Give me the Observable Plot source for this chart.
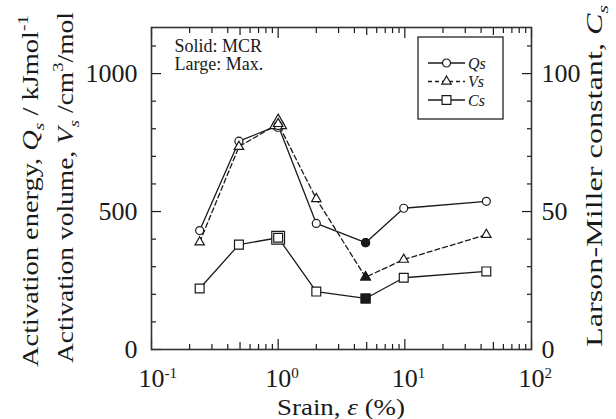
<!DOCTYPE html>
<html><head><meta charset="utf-8">
<script src="https://cdn.jsdelivr.net/npm/d3@7"></script>
<script src="https://cdn.jsdelivr.net/npm/@observablehq/plot@0.6"></script>
<style>
body{margin:0;background:#fff}
#chart svg, #chart svg text{font-family:"Liberation Serif","Times New Roman",serif !important;}
</style>
</head><body><div id="chart"></div>
<script>
// ---- data ----
const strain = [0.24, 0.49, 1.0, 2.0, 4.9, 9.8, 44];           // %
const Qs = [431, 755, 812, 457, 387, 512, 537];               // kJ/mol
const Vs = [389, 735, 818, 546, 262, 326, 416];               // cm3/mol
const Cs = [22.1, 38.0, 40.5, 21.0, 18.5, 26.0, 28.3];        // Larson-Miller constant
const mcrIndex = 4;   // solid markers (MCR)
const maxIndex = 2;   // large markers (Max.)
const seriesNames = ["Qs", "Vs", "Cs"];
const notes = ["Solid: MCR", "Large: Max."];

// ---- ticks ----
const xMajor = [0.1, 1, 10, 100];
const xMid = [0.5, 5, 50];
const xMinor = [0.2,0.3,0.4,0.6,0.7,0.8,0.9,2,3,4,6,7,8,9,20,30,40,60,70,80,90];
const yMajor = [0, 500, 1000];
const yMinor = [100,200,300,400,600,700,800,900,1100];
const csFactor = 10; // right axis = left axis / 10

const W = 616, H = 419;
const M = {top: 27, right: 85, bottom: 70, left: 151};
const ink = "#1a1a1a";
const serif = '"Liberation Serif", "Times New Roman", serif';

const rows = strain.map((x, i) => ({i, x, Qs: Qs[i], Vs: Vs[i], Cs: Cs[i] * csFactor}));

const fsTick = 26, fsLabel = 23;

function seriesMarks(key, symbol, rBig, dash) {
  return [
    Plot.line(rows, {x: "x", y: key, stroke: ink, strokeWidth: 1.3, strokeDasharray: dash}),
    Plot.dot(rows, {filter: d => d.i === maxIndex, x: "x", y: key, symbol, r: rBig, fill: "white", stroke: ink, strokeWidth: 1.2})
  ];
}
function seriesDots(key, symbol, r) {
  return [
    Plot.dot(rows, {x: "x", y: key, symbol, r, fill: "white", stroke: ink, strokeWidth: 1.2}),
    Plot.dot(rows, {filter: d => d.i === mcrIndex, x: "x", y: key, symbol, r, fill: ink, stroke: ink, strokeWidth: 1.2})
  ];
}

const plot = Plot.plot({
  width: W, height: H,
  marginTop: M.top, marginRight: M.right, marginBottom: M.bottom, marginLeft: M.left,
  style: {fontSize: fsTick + "px", color: ink, background: "white", fontFamily: serif},
  x: {type: "log", domain: [0.1, 100]},
  y: {domain: [0, 1167]},
  marks: [
    // inward ticks
    Plot.axisY(yMajor, {anchor: "left", tickSize: -10, fill: "none", label: null, strokeWidth: 1.2}),
    Plot.axisY(yMinor, {anchor: "left", tickSize: -5, fill: "none", label: null, strokeWidth: 1.2}),
    Plot.axisY(yMajor, {anchor: "right", tickSize: -10, fill: "none", label: null, strokeWidth: 1.2}),
    Plot.axisY(yMinor, {anchor: "right", tickSize: -5, fill: "none", label: null, strokeWidth: 1.2}),
    Plot.axisX(xMajor, {anchor: "bottom", tickSize: -10, fill: "none", label: null, strokeWidth: 1.2}),
    Plot.axisX(xMid, {anchor: "bottom", tickSize: -7, fill: "none", label: null, strokeWidth: 1.2}),
    Plot.axisX(xMinor, {anchor: "bottom", tickSize: -5, fill: "none", label: null, strokeWidth: 1.2}),
    Plot.axisX(xMajor, {anchor: "top", tickSize: -10, fill: "none", label: null, strokeWidth: 1.2}),
    Plot.axisX(xMid, {anchor: "top", tickSize: -7, fill: "none", label: null, strokeWidth: 1.2}),
    Plot.axisX(xMinor, {anchor: "top", tickSize: -5, fill: "none", label: null, strokeWidth: 1.2}),
    // tick labels
    Plot.axisY(yMajor, {anchor: "left", tickSize: 0, tickPadding: 14, fontSize: fsTick, fontFamily: serif, fontVariant: "normal", label: null, tickFormat: d => String(d)}),
    Plot.axisY(yMajor, {anchor: "right", tickSize: 0, tickPadding: 10, fontSize: fsTick, fontFamily: serif, fontVariant: "normal", label: null, tickFormat: d => String(d / csFactor)}),
    Plot.axisX(xMajor, {anchor: "bottom", tickSize: 0, tickPadding: 19, fontSize: fsTick, fontFamily: serif, fontVariant: "normal", label: null, className: "xexp", tickFormat: d => String(Math.round(Math.log10(d)))}),
    Plot.frame({stroke: "#333", strokeWidth: 1.6}),
    // data
    ...seriesMarks("Qs", "circle", 5.8, null),
    ...seriesMarks("Vs", "triangle", 6.2, "5,3"),
    ...seriesMarks("Cs", "square", 7.2, null),
    ...seriesDots("Qs", "circle", 4),
    ...seriesDots("Vs", "triangle", 3.5),
    ...seriesDots("Cs", "square", 5),
    Plot.text([notes.join("\n")], {frameAnchor: "top-left", dx: 23, dy: 11, fontSize: 18, fontFamily: serif, lineHeight: 1.03, textAnchor: "start", fill: ink})
  ]
});

document.getElementById("chart").append(plot);
const svg = d3.select(plot);

// superscript exponents for x tick labels
svg.selectAll(".xexp text").each(function() {
  const e = this.textContent;
  const t = d3.select(this);
  t.text("10").attr("text-anchor", "start").attr("x", -fsTick / 2);
  t.append("tspan").attr("font-size", 0.58 * fsTick).attr("dy", -0.36 * fsTick).text(e);
});

function rich(textSel, parts, fs) {
  let shift = 0;
  for (const p of parts) {
    const [t, o] = Array.isArray(p) ? p : [p, {}];
    const target = o.sub ? 0.28 * fs : o.sup ? -0.42 * fs : 0;
    const ts = textSel.append("tspan").text(t);
    if (target - shift) ts.attr("dy", target - shift);
    shift = target;
    if (o.it) ts.attr("font-style", "italic");
    if (o.sub || o.sup) ts.attr("font-size", 0.68 * fs);
  }
}

const fx0 = M.left, fx1 = W - M.right, fy0 = M.top, fy1 = H - M.bottom;
const g = svg.append("g").attr("fill", ink).attr("text-anchor", "start");

function label(transform, parts, len, anchor = "start") {
  const t = g.append("text").attr("text-anchor", anchor).attr("font-size", fsLabel).attr("transform", transform);
  rich(t, parts, fsLabel);
  t.attr("textLength", len).attr("lengthAdjust", "spacingAndGlyphs");
  return t;
}
// left axis titles (two lines)
label(`translate(${fx0 - 113},${fy1 + 18}) rotate(-90)`,
  ["Activation energy, ", ["Q", {it: true}], ["s", {it: true, sub: true}], " / kJmol", ["-1", {sup: true}]], 352);
label(`translate(${fx0 - 78},${fy1 + 14}) rotate(-90)`,
  ["Activation volume, ", ["V", {it: true}], ["s", {it: true, sub: true}], " /cm", ["3", {sup: true}], "/mol"], 351);
// right axis title
label(`translate(${fx1 + 71},${fy1 - 2}) rotate(-90)`,
  ["Larson-Miller constant, ", ["C", {it: true}], ["s", {it: true, sub: true}]], 342);
// x axis title
label(`translate(${(fx0 + fx1) / 2},${H - 4})`, ["Srain, ", ["ε", {it: true}], " (%)"], 128, "middle");

// legend
const lg = svg.append("g").attr("transform", `translate(${fx1 - 113},${fy0 + 10})`);
lg.append("rect").attr("width", 85).attr("height", 82).attr("fill", "white").attr("stroke", "#333").attr("stroke-width", 1.4);
const legendSpec = [
  {name: seriesNames[0], sym: d3.symbolCircle, r: 4, dash: null},
  {name: seriesNames[1], sym: d3.symbolTriangle, r: 3.5, dash: "4,3"},
  {name: seriesNames[2], sym: d3.symbolSquare, r: 5, dash: null}
];
legendSpec.forEach((s, k) => {
  const yy = 26 + k * 18.5;
  lg.append("line").attr("x1", 10).attr("x2", 47).attr("y1", yy).attr("y2", yy)
    .attr("stroke", ink).attr("stroke-width", 1.3).attr("stroke-dasharray", s.dash);
  lg.append("path").attr("transform", `translate(28.5,${yy})`)
    .attr("d", d3.symbol(s.sym, Math.PI * s.r * s.r)())
    .attr("fill", "white").attr("stroke", ink).attr("stroke-width", 1.2);
  lg.append("text").attr("x", 50).attr("y", yy + 5.5).attr("text-anchor", "start").attr("font-size", 16).attr("font-style", "italic").attr("fill", ink).text(s.name);
});

// force the serif face on every text (inline, so nothing overrides it)
svg.selectAll("text").each(function() { this.style.setProperty("font-family", serif, "important"); });
</script>
</body></html>
